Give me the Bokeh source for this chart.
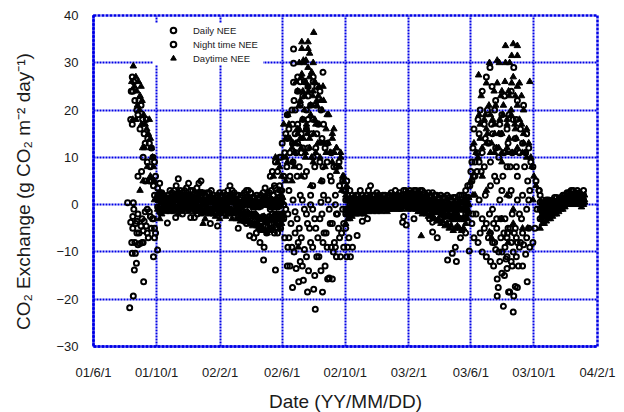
from bokeh.plotting import figure
from bokeh.embed import file_html
from bokeh.resources import INLINE
from bokeh.models import FixedTicker, Legend, LegendItem

tick_days = [0, 122, 245, 365, 487, 610, 730, 852, 975]
tick_labels = ["01/6/1", "01/10/1", "02/2/1", "02/6/1", "02/10/1", "03/2/1", "03/6/1", "03/10/1", "04/2/1"]
y_ticks = [-30, -20, -10, 0, 10, 20, 30, 40]
y_title = "CO\u2082 Exchange (g CO\u2082 m\u207b\u00b2 day\u207b\u00b9)\u00a0\u00a0\u00a0\u00a0"
x_title = "Date (YY/MM/DD)"

# dormant-season bands, one reading every 4 days
band_a_start = 124
band_a_night = [3.5,4.5,2.5,2,1.5,2,3,2.5,3,4,5.5,3,2.5,3,3.5,4.5,3,3,2.5,3.5,4.5,5,2.5,2,2.5,2.5,3,2,1.5,2,2.5,2,2.5,2,3,4,3,2.5,2,2,1.5,2,2.5,3,3,2.5,1.5,1.5,2,1.5,2,2.5,3.5,2,2.5,3,2,3.5,2.5,4,3]
band_a_upper = [2,2.5,1.5,1,1,1,1.5,1,2,2,2.5,1.5,1.5,2,1.5,2,1.5,1.5,1,2,2.5,2.5,1,1,1,1,1.5,1,.5,1,1,1,1,1,1.5,2,1.5,1,.5,.5,.5,.5,1,1.5,1,1,0,0,.5,.5,.5,1,1.5,.5,1,1,.5,1,.5,1.5,1.5]
band_a_daily = [1,1.5,.5,.5,1,.5,1,.5,1.5,1,1,.5,1,1,.5,1,1,.5,.5,1,1,1,.5,0,.5,.5,.5,.5,0,.5,0,.5,.5,0,.5,1,.5,.5,0,0,-.5,0,0,.5,0,0,-.5,-.5,0,-.5,0,0,.5,0,0,-.5,-.5,0,-.5,0,.5]
band_a_lower = [-.5,-1.5,-1,-.5,-.5,-.5,-.5,-.5,-.5,-.5,-1,-.5,-.5,-.5,-.5,-.5,-.5,-.5,-.5,-.5,-.5,-1,-1.5,-1.5,-1,-1,-1,-1,-1,-1,-1.5,-1,-1,-1,-1,-1,-1.5,-1,-1.5,-1.5,-2,-1.5,-2,-1.5,-2,-2,-2.5,-2,-2.5,-3,-3,-2.5,-3,-3.5,-2.5,-3,-3,-2,-2.5,-2.5,-2]
band_a_day = [-1,-3,-2,-1,-1.5,-1,-1.5,-1,-1.5,-1,-2,-1,-1.5,-1,-1,-1.5,-1,-1,-1.5,-1.5,-1,-2,-4,-3,-1.5,-2,-1.5,-2,-2.5,-2,-3,-2,-1.5,-2.5,-2,-2,-3,-2,-3,-3,-3.5,-3,-3.5,-3,-3.5,-4,-4.5,-4,-4.5,-5,-5.5,-5,-5.5,-6,-5,-5.5,-5,-4,-4.5,-5,-4]
band_a2_start = 288
band_a2_lower = [-3,-3.5,-3,-3.5,-4,-4,-3.5,-4,-4.5,-4,-4.5,-4.5,-3.5,-4,-4,-3,-3.5,-3.5,-3,-3]
band_b_start = 488
band_b_night = [3,2,3,2,1.5,2,2,3,2,1.5,2,3,4,2,2,2.5,2,1.5,2,2,1.5,2,2.5,2,3,2,2.5,2,3,3,2.5,3,2.5,3,3,2.5,3,3,2.5,2,2.5,2,2.5,2,2,1.5,2,1.5,1.5,2,1.5,1,1.5,1.5,1,2,2,2,3,4]
band_b_upper = [1,1,1,1,.5,1,1,1,1,.5,1,1.5,1.5,1,1,1,1,.5,1,1,.5,1,1,1,1.5,1,1.5,1,2,2,1.5,2,1.5,2,2,1.5,2,1.5,1.5,1,1,1,1,.5,.5,.5,.5,0,0,.5,0,0,0,0,0,.5,.5,.5,1,1.5]
band_b_daily = [-1,-1,0,0,-.5,0,.5,0,0,0,.5,0,.5,0,.5,0,0,0,.5,0,0,.5,.5,.5,1,.5,1,.5,1,1,.5,1,.5,1,1,.5,.5,.5,.5,0,0,0,0,-.5,-.5,-.5,-.5,-1,-1,-.5,-1,-1,-1,-1.5,-1,-1,-1,-1,-.5,0]
band_b_lower = [-2,-2,-1.5,-1,-1,-1,-.5,-1,-.5,-1,-.5,-.5,-.5,-.5,-.5,-.5,-.5,-.5,-.5,-.5,-.5,-.5,-.5,-.5,0,-.5,-.5,-.5,0,0,-.5,0,-.5,0,-.5,-.5,-.5,-1,-.5,-1,-1,-1,-1.5,-1.5,-1.5,-1.5,-2,-2,-2.5,-2,-2.5,-2.5,-3,-3,-2.5,-3,-3,-3,-2,-1.5]
band_b_day = [-4,-3,-3,-2.5,-2,-2,-1.5,-2,-1.5,-2,-1.5,-1.5,-1,-1.5,-1,-1.5,-1,-1.5,-1,-1,-1.5,-1,-1,-1,-.5,-1,-1,-1,-.5,-.5,-1,-.5,-1,-.5,-1,-1.5,-1.5,-2,-1.5,-2,-2.5,-2,-3,-3,-3.5,-3,-4,-3.5,-4.5,-4,-5,-4.5,-5.5,-5,-4.5,-5,-5.5,-5,-4,-3]
band_c_start = 864
band_c_night = [2,1,.5,1,1,.5,1,1.5,1.5,1,1.5,2,2,2.5,2.5,3,3,2.5,3,2.5,2,3]
band_c_upper = [.5,0,0,0,.5,0,.5,.5,.5,.5,1,1,1.5,1.5,2,2,2,2,2,1.5,1.5,2]
band_c_daily = [-1,-1.5,-1,-1,-.5,-.5,-.5,0,0,0,.5,.5,1,1,1,1.5,1.5,1,1,1,1,1]
band_c_lower = [-3,-2.5,-2.5,-2,-2,-2,-1.5,-1,-1,-.5,-.5,0,0,.5,.5,.5,1,.5,.5,1,.5,.5]
band_c_day = [-5,-4,-4,-3.5,-3,-3,-2.5,-2,-2,-1.5,-1,-1,-.5,0,0,0,.5,0,0,.5,-.5,0]

# growing seasons and scattered readings
daytime_x = [77,74,79,82,84,87,90,92,85,89,94,97,93,76,82,100,103,106,108,110,99,95,112,114,116,104,110,118,96,90,118,
  426,415,403,415,403,418,411,406,398,407,425,415,403,422,392,402,410,418,428,436,444,395,405,415,425,435,445,455,465,470,385,398,408,420,432,442,452,462,470,478,388,378,395,412,430,450,462,372,386,400,418,440,458,476,482,364,375,390,410,425,448,470,484,490,360,372,384,402,420,440,480,488,494,
  580,634,
  766,812,820,797,809,820,781,805,785,797,766,745,781,809,824,760,775,790,803,816,828,750,765,778,793,808,820,832,746,758,772,786,800,815,828,838,748,762,776,790,804,818,832,842,736,752,768,784,800,816,835,846,790,800,812,830,850,734,730,760,790,812,840,738,770,802,
  396,400,404,408,412,416,420,424,428,432,436,440,394,398,402,406,410,414,418,422,426,430,434,438,380,376,372,368,384,388,392,356,352,348,360,446,450,454,458,462,466,474,478,484,
  752,756,748,744,740,760,768,776,784,792,800,808,816,824,832,760,770,780,790,800,810,820,830,838,776,788,796,804,812,820,844,848,852,856]
daytime_y = [29.3,26,25,27,24,26,23,25,21,20,22,19,17,18,18,17,16,15,18,14,12,12,12,10,8,8,6,5,5,3,1,
  36.4,34.4,34.4,33,33,32,30.5,30.5,30,30,30,29,27.6,28,26,27,26,27,26,25,25,24,24,25,24,23,22,19,16,12,9,21,20,21,21,20,19,14,12,10,8,17,15,16,17,16,15,10,13,14,14,13,11,8,6,6,9,11,10,9,8,7,5,4,3,5,5,6,4,5,3,2,1,0,
  -6.6,-5.8,
  34,33.6,33.6,31.5,31.5,30.5,30,30,30,30,27.4,25.7,25.7,25.7,25.7,24,24,24,23,23,23,21,21,21,20,21,20,19,19,18,18,18,17,17,16,17,15,15,15,14,14,13,13,13,12,11,12,11,11,11,10,9,2,-1,-5,1,2,5,3,-3,-4,-5,2,-7,-8,-9,
  22,18,23,17,24,19,23,18,22,17,22,16,16,12,14,11,15,12,10,15,11,13,10,14,19,14,17,12,11,13,9,10,6,8,13,11,13,11,9,11,8,11,6,6,
  18,14,10,11,13,19,17,15,19,17,19,16,18,15,16,13,12,11,12,11,12,11,10,11,23,26,23,27,25,26,8,6,4,3]

daily_x = [72,75,73,75,78,76,80,84,88,92,86,90,95,98,102,105,108,100,96,112,115,118,110,104,108,112,116,120,118,100,93,86,66,77,
  387,387,387,444,425,395,400,408,415,425,432,438,415,405,395,388,384,375,390,400,412,420,430,440,385,395,405,415,425,435,445,378,372,390,402,412,422,432,442,452,365,375,385,395,405,415,430,448,460,360,370,380,392,402,425,438,452,465,475,352,362,374,386,398,412,428,444,458,470,482,346,356,368,380,394,408,424,442,460,476,490,342,350,362,378,400,420,445,468,484,494,
  767,813,771,760,752,778,795,808,820,748,762,776,790,804,818,832,744,756,770,786,800,812,826,838,736,746,758,772,788,802,816,830,842,734,742,752,764,778,794,810,824,836,846,732,738,746,756,768,784,800,818,834,850,730,735,742,750,776,792,806,820,840,856,728,732,738,768,780,790,808,830,844,862]
daily_y = [18,17,24,27,26,24,22,20,22,21,19,16,18,15,18,14,13,13,10,12,10,9,8,9,5,5,4,6,2,5,7,6,.4,.4,
  32.9,29.9,25.9,28,27,27,26,26,25,26,25,24,23,23,24,22,20,19,20,21,20,21,21,20,17,17,18,18,18,17,17,16,15,15,15,16,15,15,14,13,13,14,13,13,12,12,12,12,11,10,11,11,11,11,10,9,9,8,9,9,10,8,9,8,7,8,8,6,8,5,7,7,6,6,6,6,4,5,5,4,5,6,4,3,3,2,2,2,2,3,1,
  29,29,25,27,24,22,23,24,22,20,20,20,19,19,18,21,18,17,17,17,16,18,16,15,16,15,14,15,15,13,14,13,12,12,11,11,13,12,11,11,11,11,9,9,9,9,8,9,10,8,8,8,8,7,6,7,7,6,6,8,6,5,5,4,5,6,4,5,3,3,2,3,3,3,2]

night_x = [70,77,97,79,83,116,75,81,124,72,76,82,88,94,100,108,114,118,74,80,86,92,98,104,110,120,78,84,90,96,102,112,118,76,86,94,106,116,84,96,104,
  143,159,172,188,195,201,226,240,302,330,322,310,315,320,296,280,335,
  429,414,426,443,453,462,406,329,352,375,385,397,428,440,456,470,380,392,404,416,432,448,464,478,490,376,388,400,412,424,436,452,468,484,370,384,396,408,420,444,460,476,492,362,378,390,402,418,434,450,466,480,494,356,368,382,398,414,430,446,462,474,488,350,364,376,394,412,428,438,458,472,484,346,358,372,390,408,424,442,456,470,482,342,354,368,386,404,420,440,454,468,
  580,598,605,656,656,665,694,702,685,700,727,497,501,510,520,530,600,620,650,670,688,710,720,
  801,812,793,813,781,783,803,820,816,805,795,781,839,790,800,810,822,774,786,798,808,818,830,768,778,790,800,812,824,836,760,772,784,796,808,820,832,844,752,764,776,788,800,814,826,838,850,744,756,768,780,794,806,818,830,842,736,748,760,774,788,802,816,828,854,732,740,752,766,780,796,810,824,838,858,734,746,758,772,786,804,820,842,862]
night_y = [-21.8,-19.3,-16.3,-13.8,-12.4,-11,-10.3,-10.3,-9.6,-3.7,-5,-4,-6,-3,-1.5,-1.5,-3,-7,-8,-8,-8.5,-4.5,-3.5,-6,-2.5,-6,-1,-6,-8.2,-8,-4.5,-5,-5,-2.5,-2,-8,-7,-3,-3.5,-5.5,-1,
  -3.9,-2.7,-2,-2.7,-2.7,-2,-4,-4.5,-6.6,-9,-8,-7,-6,-5,-4,-5,-6,
  -22.1,-18.5,-17.9,-18.5,-15.7,-15.7,-16,-11.7,-13.8,-13,-17.5,-16.3,-15,-14,-15.5,-11,-13,-13.5,-13,-14,-11,-13,-10,-11,-11,-9,-10,-12,-11,-9,-11,-9,-9,-9,-7,-9,-8,-9.5,-8,-8,-9,-7,-9,-5,-7,-6,-7,-5,-7,-6,-8,-6,-7,-6,-3,-4,-5,-4,-5,-6,-4,-5,-5,-6,-3,-2,-3,-2,-3,-3,-4,-2,-4,-2,-2,-1,-1.5,-1,-1,-2,-1,-2,-1,-1,1,0,1,1,0,.5,1,0,.5,
  -3.7,-4.3,-3.7,-5.8,-7,-10.3,-12,-11.7,-9,-9.8,-11,-9,-6.5,-3.5,-3,-2.5,-3,-3,-3,-4,-7,-6,-6,
  -22.7,-21.5,-19.3,-19.3,-17.5,-18.5,-17.5,-17.3,-18.5,-15,-15.7,-16.3,-14.5,-13.5,-13,-13,-13,-12,-11.5,-12,-11,-13,-12,-9.5,-10,-11,-10,-9,-10.5,-11,-8,-10,-9,-8,-8,-8.5,-9,-10,-7,-8,-7,-7,-6,-8,-7,-8,-8,-5,-6,-5,-6,-5,-7,-6,-5,-7,-6,-4,-4,-3,-5,-5,-3,-5,-4,-2,-3,-2,-3,-3,-2,-2,-1,-1,-2,1,2,-1,1,2,1,1,3,1]

BLUE = "#0000e6"
FONT = "Liberation Sans"
INK = "#1a1a1a"

p = figure(width=624, height=412, output_backend="svg", toolbar_location=None,
           x_range=(0, 975), y_range=(-30, 40), frame_width=504, frame_height=331,
           min_border_left=93, min_border_right=27, min_border_top=15, min_border_bottom=66,
           background_fill_color="white", border_fill_color="white")

for ax in (p.xaxis[0], p.yaxis[0]):
    ax.major_label_text_font = FONT
    ax.major_label_text_font_size = "13px"
    ax.major_label_text_color = INK
    ax.major_tick_line_color = None
    ax.minor_tick_line_color = None
    ax.axis_line_color = BLUE
    ax.axis_line_width = 2.5
    ax.axis_line_dash = "3 1"
    ax.axis_label_text_font = FONT
    ax.axis_label_text_font_size = "19px"
    ax.axis_label_text_font_style = "normal"
    ax.axis_label_text_color = INK
p.xaxis[0].ticker = FixedTicker(ticks=tick_days)
p.xaxis[0].major_label_overrides = dict(zip(tick_days, tick_labels))
p.xaxis[0].major_label_standoff = 12
p.xaxis[0].axis_label = x_title
p.xaxis[0].axis_label_standoff = 8
p.yaxis[0].ticker = FixedTicker(ticks=y_ticks)
p.yaxis[0].major_label_standoff = 9
p.yaxis[0].axis_label = y_title
p.yaxis[0].axis_label_standoff = 19

for g in (p.xgrid[0], p.ygrid[0]):
    g.grid_line_color = BLUE
    g.grid_line_width = 2
    g.grid_line_dash = "2 1"
p.outline_line_color = BLUE
p.outline_line_width = 2.5
p.outline_line_dash = "3 1"

def band(start, vals):
    return [start + 4 * i for i in range(len(vals))]

def trim(a, b):
    n = min(len(a), len(b))
    return a[:n], b[:n]

night_x, night_y = trim(night_x, night_y)
daily_x, daily_y = trim(daily_x, daily_y)
daytime_x, daytime_y = trim(daytime_x, daytime_y)

night_all_x = night_x + band(band_a_start, band_a_night) + band(band_b_start, band_b_night) + band(band_c_start, band_c_night)
night_all_y = night_y + band_a_night + band_b_night + band_c_night
daily_all_x = (daily_x + band(band_a_start, band_a_daily) + band(band_b_start, band_b_daily) + band(band_c_start, band_c_daily)
               + band(band_a_start, band_a_upper) + band(band_b_start, band_b_upper) + band(band_c_start, band_c_upper)
               + band(band_a_start, band_a_lower) + band(band_b_start, band_b_lower) + band(band_c_start, band_c_lower)
               + band(band_a2_start, band_a2_lower))
daily_all_y = (daily_y + band_a_daily + band_b_daily + band_c_daily
               + band_a_upper + band_b_upper + band_c_upper
               + band_a_lower + band_b_lower + band_c_lower + band_a2_lower)
day_all_x = (daytime_x + band(band_a_start, band_a_day) + band(band_b_start, band_b_day) + band(band_c_start, band_c_day)
             + band(band_a_start + 2, band_a_upper) + band(band_b_start + 2, band_b_upper) + band(band_c_start + 2, band_c_upper)
             + band(band_a_start + 2, band_a_daily) + band(band_b_start + 2, band_b_daily) + band(band_c_start + 2, band_c_daily)
             + band(band_a_start + 2, band_a_lower) + band(band_b_start + 2, band_b_lower) + band(band_c_start + 2, band_c_lower))
day_all_y = (daytime_y + band_a_day + band_b_day + band_c_day
             + band_a_upper + band_b_upper + band_c_upper
             + band_a_daily + band_b_daily + band_c_daily
             + band_a_lower + band_b_lower + band_c_lower)

r_day = p.scatter(day_all_x, day_all_y, marker="triangle", size=6.5, color="black", line_width=1)
r_night = p.scatter(night_all_x, night_all_y, marker="circle", size=5, fill_alpha=0, line_color="black", line_width=2)
r_daily = p.scatter(daily_all_x, daily_all_y, marker="circle", size=5, fill_alpha=0, line_color="black", line_width=2)

legend = Legend(items=[LegendItem(label="Daily NEE", renderers=[r_daily]),
                       LegendItem(label="Night time NEE", renderers=[r_night]),
                       LegendItem(label="Daytime NEE", renderers=[r_day])],
                location=(60, 281), orientation="vertical", background_fill_color="white",
                background_fill_alpha=1, border_line_color=None, padding=5, margin=0, spacing=0,
                glyph_width=40, glyph_height=14, label_height=14, label_width=70, label_standoff=0,
                label_text_font=FONT, label_text_font_size="9.5px", label_text_color=INK)
p.add_layout(legend, "center")

open("out.html", "w").write(file_html(p, INLINE))
